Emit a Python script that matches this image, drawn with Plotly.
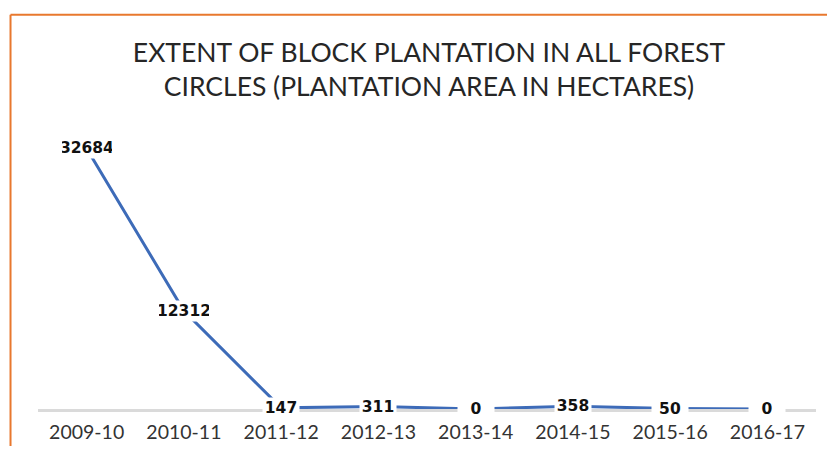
import plotly.graph_objects as go

categories = ["2009-10", "2010-11", "2011-12", "2012-13", "2013-14", "2014-15", "2015-16", "2016-17"]
values = [32684, 12312, 147, 311, 0, 358, 50, 0]
title_text = "EXTENT OF BLOCK PLANTATION IN ALL FOREST<br>CIRCLES (PLANTATION AREA IN HECTARES)"

OFF = 8  # page body margin
W, H = 835 - 2 * OFF, 454 - 2 * OFF
L, R, T, B = 29.5, 11, 121.5, 37

fig = go.Figure()
fig.add_trace(go.Scatter(
    x=categories, y=values, mode="lines",
    line=dict(color="#3D6BB8", width=3),
    hoverinfo="skip", showlegend=False,
))

for c, v in zip(categories, values):
    txt = str(v)
    fig.add_annotation(
        x=c, y=v, xref="x", yref="y", text="<b>%s</b>" % txt,
        showarrow=False, bgcolor="white", borderpad=1,
        width=max(10 * len(txt), 34),
        font=dict(family="DejaVu Sans", size=15.5, color="#111111"),
        xanchor="center", yanchor="middle",
    )

pw = W - L - R
ph = H - T - B
def px2paper_x(px):
    return (px - OFF - L) / pw
def px2paper_y(py):
    return (H - B - (py - OFF)) / ph

# orange frame (top and left edges)
fig.add_shape(type="line", xref="paper", yref="paper",
              x0=px2paper_x(10), x1=px2paper_x(840), y0=px2paper_y(14), y1=px2paper_y(14),
              line=dict(color="#E8782E", width=2))
fig.add_shape(type="line", xref="paper", yref="paper",
              x0=px2paper_x(10), x1=px2paper_x(10), y0=px2paper_y(14), y1=px2paper_y(470),
              line=dict(color="#E8782E", width=2))

fig.update_layout(
    width=W, height=H,
    margin=dict(l=L, r=R, t=T, b=B, pad=0, autoexpand=False),
    paper_bgcolor="white", plot_bgcolor="white",
    title=dict(text=title_text, x=(429 - OFF) / W, xanchor="center", y=1 - 54 / H, yanchor="middle",
               font=dict(family="Lato, sans-serif", size=26.5, color="#262626")),
    xaxis=dict(type="category", range=[-0.5, 7.5], showgrid=False, zeroline=False,
               automargin=False,
               showline=True, linecolor="#DADADA", linewidth=3,
               ticks="", ticklabelstandoff=4,
               tickfont=dict(family="Lato, sans-serif", size=19.5, color="#333333")),
    yaxis=dict(range=[0, 35000], visible=False, showgrid=False, zeroline=False, automargin=False),
)

fig.write_html("out.html")
